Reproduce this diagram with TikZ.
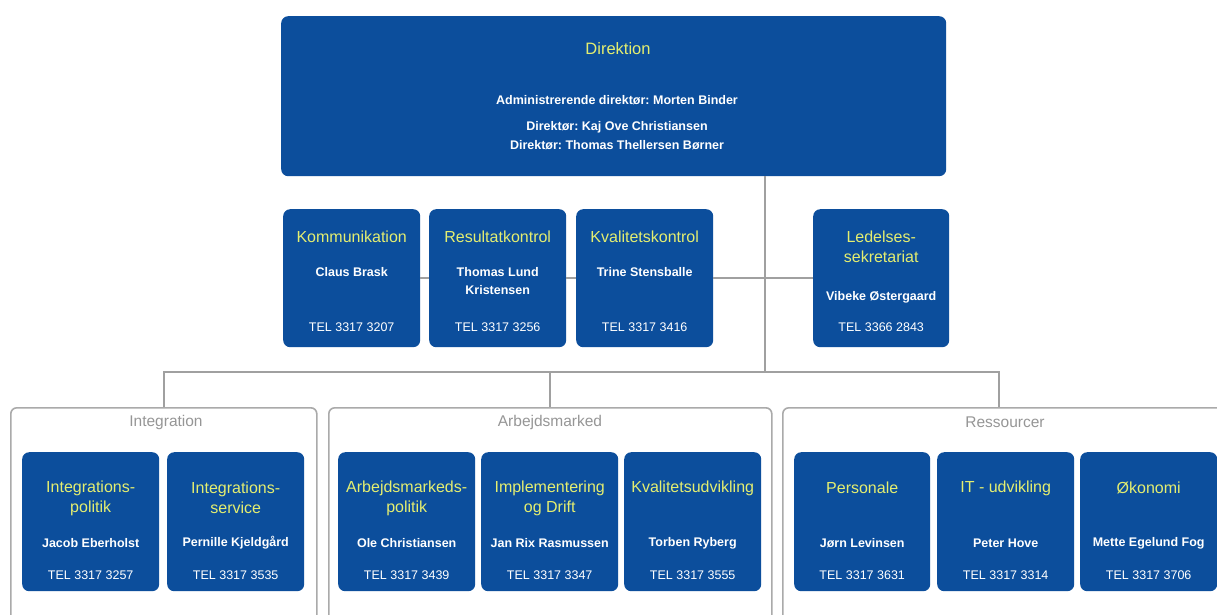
\documentclass[tikz,border=0pt]{standalone}
\usepackage{fontspec}
\setmainfont{Liberation Sans}
\frenchspacing
\definecolor{boxblue}{RGB}{12,78,156}
\definecolor{ttlyellow}{RGB}{228,238,112}
\definecolor{linegray}{RGB}{160,160,160}
\definecolor{grpgray}{RGB}{170,170,170}
\definecolor{lblgray}{RGB}{150,150,150}
\begin{document}
\begin{tikzpicture}[x=1pt,y=-1pt,
  bbox/.style={fill=boxblue, rounded corners=7pt, inner sep=0pt, anchor=north west},
  ubox/.style={bbox, minimum width=137pt, minimum height=139pt},
  grp/.style={draw=grpgray, line width=1.6pt, rounded corners=6pt, fill=white, inner sep=0pt, anchor=north west, minimum height=240pt},
  conn/.style={draw=linegray, line width=2.2pt},
  ttl/.style={text=ttlyellow, font=\fontsize{16}{20}\selectfont, align=center, inner sep=0pt},
  dttl/.style={text=ttlyellow, font=\fontsize{16.5}{18}\selectfont, inner sep=0pt},
  nam/.style={text=white, font=\bfseries\fontsize{12.5}{18}\selectfont, align=center, inner sep=0pt},
  tel/.style={text=white, font=\fontsize{12.5}{15}\selectfont, inner sep=0pt},
  glbl/.style={text=lblgray, font=\fontsize{15.5}{18}\selectfont, inner sep=0pt}
]
\useasboundingbox (0,0) rectangle (1217,614);
\clip (0,0) rectangle (1217,614);
\fill[white] (0,0) rectangle (1217,614);

% group frames
\node[grp, minimum width=306pt] (gint) at (10,407) {};
\node[grp, minimum width=443pt] (garb) at (328,407) {};
\node[grp, minimum width=458pt] (gres) at (782,407) {};
\node[glbl] (lint) at (166,422) {Integration};
\node[glbl] (larb) at (550,422) {Arbejdsmarked};
\node[glbl] (lres) at (1005,422) {Ressourcer};

% top box
\node[bbox, minimum width=665pt, minimum height=160pt] (dir) at (281,16) {};
\node[dttl] (dirt) at (618,49) {Direktion};
\node[nam] (dir1) at (617,100) {Administrerende direktør: Morten Binder};
\node[nam] (dir2) at (617,127) {Direktør: Kaj Ove Christiansen};
\node[nam] (dir3) at (617,145) {Direktør: Thomas Thellersen Børner};

% middle row
\node[ubox, minimum height=138pt] (komm) at (283,209) {};
\node[ubox, minimum height=138pt] (res) at (429,209) {};
\node[ubox, minimum height=138pt] (kval) at (576,209) {};
\node[ubox, minimum height=138pt, minimum width=136pt] (led) at (813,209) {};

% bottom row
\node[ubox] (ipol) at (22,452) {};
\node[ubox] (iser) at (167,452) {};
\node[ubox] (apol) at (338,452) {};
\node[ubox] (impl) at (481,452) {};
\node[ubox] (kudv) at (624,452) {};
\node[ubox, minimum width=136pt] (pers) at (794,452) {};
\node[ubox] (itud) at (937,452) {};
\node[ubox] (okon) at (1080,452) {};

% row coordinates
\coordinate (mT) at (0,237);
\coordinate (mT2) at (0,247);
\coordinate (mN) at (0,272);
\coordinate (mN2) at (0,281);
\coordinate (mNl) at (0,297);
\coordinate (mTel) at (0,327);
\coordinate (bT) at (0,488);
\coordinate (bT2) at (0,498);
\coordinate (bN) at (0,543);
\coordinate (bTel) at (0,575);
\coordinate (bus) at (0,372);
\coordinate (jdir) at (765,277);
\coordinate (dres) at (999,407);

% connectors
\draw[conn] (dir.south -| jdir) -- (jdir |- bus);
\draw[conn] (komm.east) -- (res.west);
\draw[conn] (res.east) -- (kval.west);
\draw[conn] (kval.east) -- (led.west);
\draw[conn] (gint.north) -- (gint.north |- bus) -- (dres |- bus) -- (dres);
\draw[conn] (garb.north |- bus) -- (garb.north);

% middle row texts
\node[ttl] (kommt) at (komm.north |- mT) {Kommunikation};
\node[nam] (kommn) at (komm.north |- mN) {Claus Brask};
\node[tel] (kommp) at (komm.north |- mTel) {TEL 3317 3207};
\node[ttl] (rest) at (res.north |- mT) {Resultatkontrol};
\node[nam] (resn) at (res.north |- mN2) {Thomas Lund\\Kristensen};
\node[tel] (resp) at (res.north |- mTel) {TEL 3317 3256};
\node[ttl] (kvalt) at (kval.north |- mT) {Kvalitetskontrol};
\node[nam] (kvaln) at (kval.north |- mN) {Trine Stensballe};
\node[tel] (kvalp) at (kval.north |- mTel) {TEL 3317 3416};
\node[ttl] (ledt) at (led.north |- mT2) {Ledelses-\\sekretariat};
\node[nam] (ledn) at (led.north |- mNl) {Vibeke Østergaard};
\node[tel] (ledp) at (led.north |- mTel) {TEL 3366 2843};

% bottom row texts
\node[ttl] (ipolt) at (ipol.north |- bT2) {Integrations-\\politik};
\node[nam] (ipoln) at (ipol.north |- bN) {Jacob Eberholst};
\node[tel] (ipolp) at (ipol.north |- bTel) {TEL 3317 3257};
\node[ttl] (isert) at (iser.north |- bT2) {Integrations-\\service};
\node[nam] (isern) at (iser.north |- bN) {Pernille Kjeldgård};
\node[tel] (iserp) at (iser.north |- bTel) {TEL 3317 3535};
\node[ttl] (apolt) at (apol.north |- bT2) {Arbejdsmarkeds-\\politik};
\node[nam] (apoln) at (apol.north |- bN) {Ole Christiansen};
\node[tel] (apolp) at (apol.north |- bTel) {TEL 3317 3439};
\node[ttl] (implt) at (impl.north |- bT2) {Implementering\\og Drift};
\node[nam] (impln) at (impl.north |- bN) {Jan Rix Rasmussen};
\node[tel] (implp) at (impl.north |- bTel) {TEL 3317 3347};
\node[ttl] (kudvt) at (kudv.north |- bT) {Kvalitetsudvikling};
\node[nam] (kudvn) at (kudv.north |- bN) {Torben Ryberg};
\node[tel] (kudvp) at (kudv.north |- bTel) {TEL 3317 3555};
\node[ttl] (perst) at (pers.north |- bT) {Personale};
\node[nam] (persn) at (pers.north |- bN) {Jørn Levinsen};
\node[tel] (persp) at (pers.north |- bTel) {TEL 3317 3631};
\node[ttl] (itudt) at (itud.north |- bT) {IT - udvikling};
\node[nam] (itudn) at (itud.north |- bN) {Peter Hove};
\node[tel] (itudp) at (itud.north |- bTel) {TEL 3317 3314};
\node[ttl] (okont) at (okon.north |- bT) {Økonomi};
\node[nam] (okonn) at (okon.north |- bN) {Mette Egelund Fog};
\node[tel] (okonp) at (okon.north |- bTel) {TEL 3317 3706};
\end{tikzpicture}
\end{document}
